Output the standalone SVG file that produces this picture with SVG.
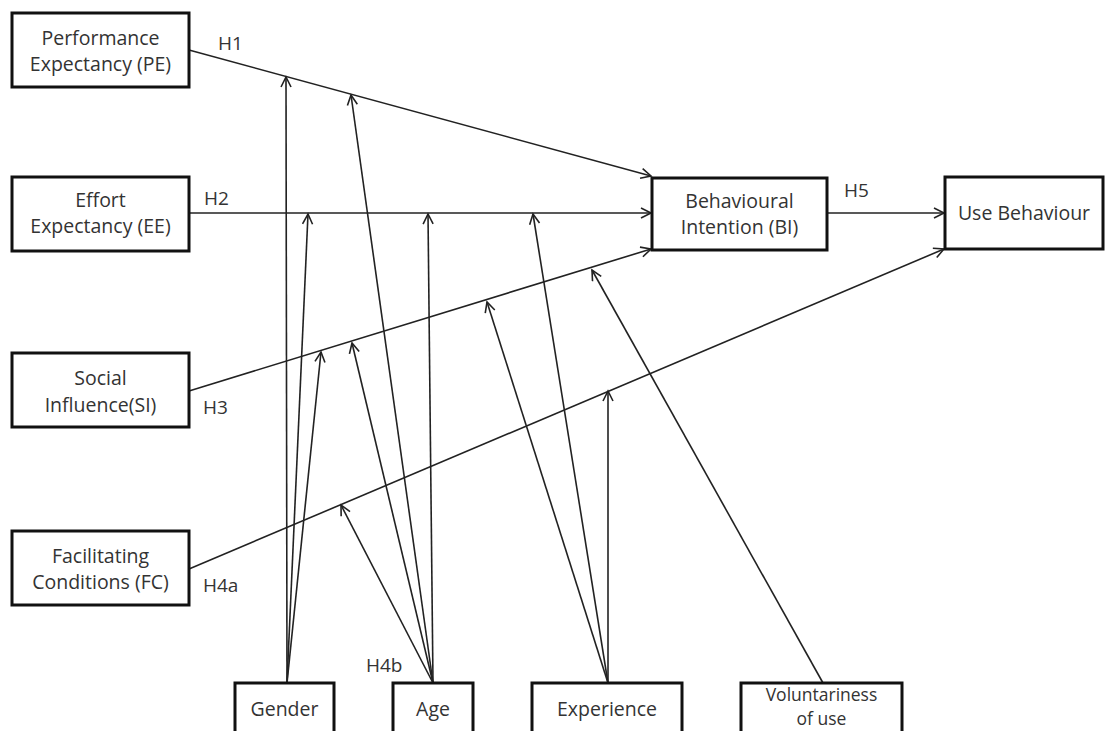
<svg xmlns="http://www.w3.org/2000/svg" width="1117" height="731" viewBox="0 0 1117 731">
<style>
.box{fill:#fff;stroke:#111;stroke-width:3}
.t{font-family:"Open Sans",sans-serif;font-size:19.5px;fill:#333;text-anchor:middle}
.s{font-size:17.5px}
.lb{font-family:"Open Sans",sans-serif;font-size:19px;fill:#333}
.c{stroke:#222;stroke-width:1.6;fill:none;marker-end:url(#ah)}
</style>
<defs>
<marker id="ah" markerUnits="userSpaceOnUse" markerWidth="14" markerHeight="14" refX="11" refY="6" orient="auto">
<path d="M1,1 L11,6 L1,11" fill="none" stroke="#222" stroke-width="1.6"/>
</marker>
</defs>
<rect width="1117" height="731" fill="#fff"/>
<g id="connectors">
<line class="c" x1="189" y1="50" x2="651" y2="176"/>
<line class="c" x1="189" y1="213" x2="651" y2="213"/>
<line class="c" x1="189" y1="391" x2="651" y2="249"/>
<line class="c" x1="189" y1="569" x2="944" y2="249"/>
<line class="c" x1="827" y1="213" x2="944" y2="213"/>
<line class="c" x1="287" y1="683" x2="286" y2="77"/>
<line class="c" x1="287" y1="683" x2="308" y2="214"/>
<line class="c" x1="287" y1="683" x2="321" y2="352"/>
<line class="c" x1="433" y1="683" x2="351" y2="95"/>
<line class="c" x1="433" y1="683" x2="428" y2="214"/>
<line class="c" x1="433" y1="683" x2="352" y2="343"/>
<line class="c" x1="433" y1="683" x2="341" y2="505"/>
<line class="c" x1="608" y1="683" x2="533" y2="214"/>
<line class="c" x1="608" y1="683" x2="487" y2="302"/>
<line class="c" x1="608" y1="683" x2="608" y2="391"/>
<line class="c" x1="823" y1="683" x2="592" y2="270"/>
</g>
<g id="labels">
<text class="lb" x="218" y="50">H1</text>
<text class="lb" x="204" y="205">H2</text>
<text class="lb" x="203" y="414">H3</text>
<text class="lb" x="203" y="592">H4a</text>
<text class="lb" x="366" y="672">H4b</text>
<text class="lb" x="844" y="197">H5</text>
</g>
<g id="pe"><rect class="box" x="12" y="13" width="177" height="74"/><text class="t" x="100.5" y="45">Performance</text><text class="t" x="100.5" y="71">Expectancy (PE)</text></g>
<g id="ee"><rect class="box" x="12" y="177" width="177" height="74"/><text class="t" x="100.5" y="207">Effort</text><text class="t" x="100.5" y="233">Expectancy (EE)</text></g>
<g id="si"><rect class="box" x="12" y="353" width="177" height="74"/><text class="t" x="100.5" y="385">Social</text><text class="t" x="100.5" y="412">Influence(SI)</text></g>
<g id="fc"><rect class="box" x="12" y="531" width="177" height="74"/><text class="t" x="100.5" y="563">Facilitating</text><text class="t" x="100.5" y="589">Conditions (FC)</text></g>
<g id="bi"><rect class="box" x="652" y="178" width="175" height="72"/><text class="t" x="739.5" y="208">Behavioural</text><text class="t" x="739.5" y="234">Intention (BI)</text></g>
<g id="ub"><rect class="box" x="945" y="177" width="158" height="72"/><text class="t" x="1024" y="220">Use Behaviour</text></g>
<g id="gender"><rect class="box" x="235" y="683" width="99" height="70"/><text class="t" x="284.5" y="716">Gender</text></g>
<g id="age"><rect class="box" x="393" y="683" width="80" height="70"/><text class="t" x="433" y="716">Age</text></g>
<g id="experience"><rect class="box" x="532" y="683" width="150" height="70"/><text class="t" x="607" y="716">Experience</text></g>
<g id="voluntariness"><rect class="box" x="741" y="683" width="161" height="70"/><text class="t s" x="821.5" y="701">Voluntariness</text><text class="t s" x="821.5" y="725">of use</text></g>
</svg>
